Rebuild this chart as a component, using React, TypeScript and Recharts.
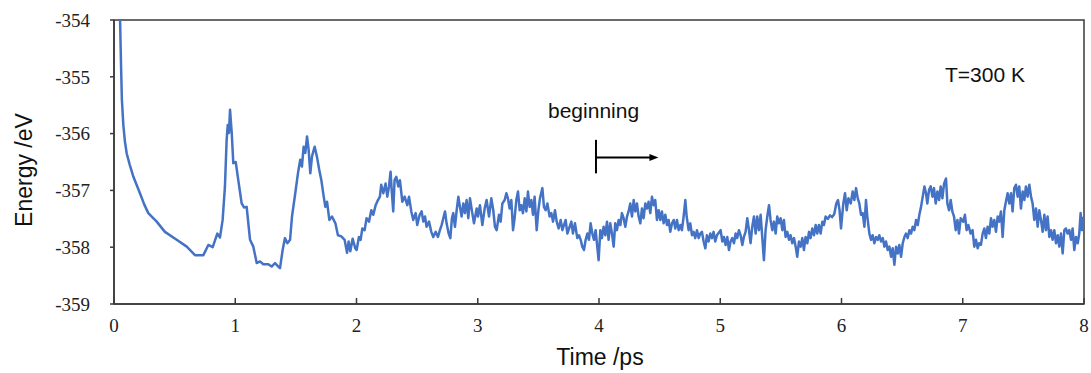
import React from 'react';
import {
  LineChart,
  Line,
  XAxis,
  YAxis,
  ReferenceArea,
  ReferenceLine,
} from 'recharts';

// [time ps, energy eV], one array per picosecond
const seg0: [number, number][] = [
  [0.05, -354.0], [0.058, -354.8], [0.065, -355.4], [0.077, -355.85], [0.09, -356.14],
  [0.105, -356.35], [0.13, -356.55], [0.16, -356.76], [0.214, -357.05], [0.25, -357.25],
  [0.283, -357.4], [0.352, -357.55], [0.42, -357.73], [0.517, -357.87], [0.6, -357.99],
  [0.668, -358.14], [0.737, -358.14], [0.778, -357.96], [0.814, -358.0], [0.852, -357.76],
  [0.874, -357.83], [0.896, -357.52], [0.915, -356.93], [0.929, -356.11], [0.938, -355.85],
  [0.948, -355.99], [0.957, -355.58], [0.971, -355.99], [0.984, -356.52],
];
const seg1: [number, number][] = [
  [1.004, -356.5], [1.025, -356.82], [1.053, -357.23], [1.072, -357.3], [1.094, -357.29],
  [1.122, -357.87], [1.149, -357.99], [1.177, -358.28], [1.204, -358.25], [1.231, -358.3],
  [1.273, -358.3], [1.3, -358.34], [1.328, -358.28], [1.355, -358.34], [1.369, -358.37],
  [1.391, -358.05], [1.41, -357.84], [1.43, -357.93], [1.452, -357.87], [1.468, -357.46],
  [1.495, -357.05], [1.517, -356.7], [1.536, -356.46], [1.55, -356.58], [1.564, -356.23],
  [1.578, -356.34], [1.592, -356.05], [1.605, -356.28], [1.619, -356.7], [1.633, -356.4],
  [1.655, -356.23], [1.674, -356.41], [1.693, -356.64], [1.71, -356.82], [1.729, -357.1],
  [1.743, -357.29], [1.757, -357.2], [1.776, -357.52], [1.798, -357.46], [1.826, -357.58],
  [1.847, -357.79], [1.875, -357.81], [1.902, -357.87], [1.922, -358.1], [1.935, -357.9],
  [1.949, -358.07], [1.968, -357.85], [1.99, -358.02],
];
const seg2: [number, number][] = [
  [2.001, -358.05], [2.02, -357.82], [2.034, -357.87], [2.048, -357.67], [2.067, -357.7],
  [2.083, -357.49], [2.103, -357.55], [2.122, -357.35], [2.138, -357.43], [2.158, -357.26],
  [2.177, -357.17], [2.193, -357.11], [2.204, -356.9], [2.221, -357.05], [2.24, -356.88],
  [2.254, -357.11], [2.268, -356.93], [2.281, -356.67], [2.29, -356.99], [2.303, -357.37],
  [2.314, -356.82], [2.328, -356.76], [2.345, -356.93], [2.358, -356.82], [2.378, -357.2],
  [2.397, -357.11], [2.419, -357.26], [2.433, -357.11], [2.452, -357.37], [2.468, -357.52],
  [2.488, -357.4], [2.501, -357.61], [2.521, -357.43], [2.537, -357.37], [2.551, -357.55],
  [2.565, -357.46], [2.578, -357.64], [2.598, -357.55], [2.617, -357.73], [2.633, -357.82],
  [2.653, -357.73], [2.672, -357.82], [2.688, -357.7], [2.702, -357.61], [2.716, -357.49],
  [2.73, -357.37], [2.743, -357.58], [2.76, -357.76], [2.774, -357.84], [2.787, -357.49],
  [2.798, -357.4], [2.812, -357.64], [2.826, -357.35], [2.84, -357.11], [2.853, -357.29],
  [2.867, -357.46], [2.881, -357.23], [2.894, -357.4], [2.908, -357.17], [2.922, -357.49],
  [2.936, -357.14], [2.955, -357.4], [2.969, -357.58], [2.991, -357.32],
];
const seg3: [number, number][] = [
  [3.002, -357.46], [3.018, -357.26], [3.038, -357.61], [3.057, -357.32], [3.073, -357.17],
  [3.093, -357.46], [3.112, -357.14], [3.128, -357.35], [3.142, -357.64], [3.156, -357.7],
  [3.175, -357.43], [3.189, -357.55], [3.203, -357.23], [3.222, -357.17], [3.236, -357.05],
  [3.249, -357.14], [3.263, -357.32], [3.277, -357.17], [3.291, -357.7], [3.304, -357.49],
  [3.318, -357.17], [3.332, -357.02], [3.346, -357.35], [3.359, -357.26], [3.373, -357.4],
  [3.387, -357.14], [3.401, -357.37], [3.414, -357.02], [3.428, -357.29], [3.442, -357.17],
  [3.456, -357.43], [3.469, -357.11], [3.486, -357.7], [3.5, -357.35], [3.513, -357.14],
  [3.533, -356.96], [3.546, -357.29], [3.56, -357.35], [3.574, -357.23], [3.593, -357.46],
  [3.607, -357.4], [3.621, -357.55], [3.637, -357.35], [3.651, -357.55], [3.667, -357.67],
  [3.684, -357.52], [3.698, -357.7], [3.711, -357.61], [3.725, -357.52], [3.739, -357.76],
  [3.758, -357.64], [3.772, -357.55], [3.785, -357.76], [3.802, -357.58], [3.821, -357.84],
  [3.835, -357.79], [3.849, -357.87], [3.862, -357.99], [3.876, -358.05], [3.89, -357.87],
  [3.904, -357.76], [3.917, -357.87], [3.931, -357.58], [3.945, -357.76], [3.959, -357.87],
  [3.972, -357.7], [3.997, -358.23],
];
const seg4: [number, number][] = [
  [4.011, -357.7], [4.024, -357.84], [4.038, -357.64], [4.052, -357.79], [4.066, -357.55],
  [4.079, -357.87], [4.093, -357.58], [4.107, -357.76], [4.121, -357.99], [4.134, -357.58],
  [4.148, -357.7], [4.162, -357.52], [4.176, -357.61], [4.189, -357.4], [4.203, -357.49],
  [4.217, -357.64], [4.231, -357.46], [4.244, -357.37], [4.258, -357.23], [4.272, -357.46],
  [4.286, -357.17], [4.299, -357.37], [4.313, -357.23], [4.327, -357.46], [4.341, -357.58],
  [4.354, -357.32], [4.368, -357.49], [4.382, -357.23], [4.396, -357.32], [4.409, -357.2],
  [4.423, -357.4], [4.437, -357.11], [4.451, -357.26], [4.464, -357.17], [4.478, -357.52],
  [4.492, -357.35], [4.506, -357.52], [4.519, -357.37], [4.533, -357.58], [4.547, -357.43],
  [4.561, -357.61], [4.574, -357.52], [4.588, -357.73], [4.602, -357.58], [4.616, -357.52],
  [4.629, -357.67], [4.643, -357.52], [4.657, -357.7], [4.671, -357.61], [4.684, -357.7],
  [4.698, -357.46], [4.712, -357.17], [4.723, -357.46], [4.739, -357.7], [4.753, -357.58],
  [4.767, -357.79], [4.78, -357.73], [4.794, -357.84], [4.808, -357.7], [4.822, -357.84],
  [4.835, -357.76], [4.849, -357.73], [4.863, -357.9], [4.877, -358.02], [4.89, -357.79],
  [4.904, -357.9], [4.918, -357.76], [4.932, -357.84], [4.945, -357.73], [4.959, -357.9],
  [4.973, -357.79],
];
const seg5: [number, number][] = [
  [5.003, -357.7], [5.017, -357.9], [5.03, -357.82], [5.044, -357.96], [5.058, -357.82],
  [5.072, -358.05], [5.085, -357.9], [5.099, -357.84], [5.113, -357.93], [5.127, -357.76],
  [5.14, -357.84], [5.154, -357.7], [5.168, -357.79], [5.182, -357.96], [5.195, -357.82],
  [5.209, -357.73], [5.223, -357.49], [5.237, -357.7], [5.25, -357.93], [5.264, -357.64],
  [5.278, -357.46], [5.292, -357.76], [5.305, -357.46], [5.319, -357.7], [5.333, -357.43],
  [5.347, -357.84], [5.36, -358.23], [5.374, -357.7], [5.388, -357.46], [5.402, -357.26],
  [5.415, -357.52], [5.429, -357.7], [5.443, -357.55], [5.457, -357.76], [5.47, -357.46],
  [5.484, -357.58], [5.498, -357.49], [5.512, -357.7], [5.525, -357.52], [5.539, -357.82],
  [5.553, -357.73], [5.567, -357.87], [5.58, -357.79], [5.594, -357.93], [5.608, -357.84],
  [5.622, -357.99], [5.635, -358.17], [5.649, -357.9], [5.663, -357.99], [5.677, -357.84],
  [5.69, -358.05], [5.704, -357.82], [5.718, -357.93], [5.732, -357.73], [5.745, -357.84],
  [5.759, -357.67], [5.773, -357.79], [5.787, -357.61], [5.8, -357.76], [5.814, -357.61],
  [5.828, -357.76], [5.842, -357.55], [5.855, -357.61], [5.869, -357.46], [5.888, -357.5],
  [5.905, -357.44], [5.922, -357.47], [5.94, -357.42], [5.957, -357.23], [5.971, -357.17],
  [5.984, -357.35], [5.996, -357.67],
];
const seg6: [number, number][] = [
  [6.015, -357.23], [6.029, -357.05], [6.043, -357.35], [6.057, -357.14], [6.076, -357.23],
  [6.092, -357.02], [6.106, -357.17], [6.12, -356.96], [6.134, -357.14], [6.147, -357.23],
  [6.161, -357.43], [6.175, -357.4], [6.189, -357.64], [6.202, -357.17], [6.213, -357.46],
  [6.23, -357.76], [6.244, -357.87], [6.257, -357.79], [6.271, -357.93], [6.285, -357.82],
  [6.299, -357.87], [6.312, -357.79], [6.326, -357.9], [6.34, -357.84], [6.354, -357.99],
  [6.367, -357.9], [6.381, -358.05], [6.395, -357.99], [6.409, -358.17], [6.422, -358.02],
  [6.436, -358.31], [6.45, -357.99], [6.464, -358.11], [6.477, -357.96], [6.491, -358.17],
  [6.505, -357.93], [6.519, -357.82], [6.532, -357.76], [6.546, -357.84], [6.56, -357.7],
  [6.574, -357.76], [6.587, -357.64], [6.601, -357.7], [6.615, -357.52], [6.629, -357.61],
  [6.642, -357.43], [6.656, -357.29], [6.67, -357.11], [6.684, -356.93], [6.697, -357.05],
  [6.708, -357.23], [6.722, -356.99], [6.736, -356.93], [6.75, -357.11], [6.763, -356.96],
  [6.777, -357.23], [6.791, -357.02], [6.805, -357.17], [6.818, -356.93], [6.832, -357.14],
  [6.846, -356.88], [6.862, -356.79], [6.873, -357.23], [6.887, -357.35], [6.901, -357.17],
  [6.914, -357.37], [6.928, -357.46], [6.942, -357.7], [6.956, -357.52], [6.969, -357.76],
  [6.983, -357.49],
];
const seg7: [number, number][] = [
  [7.004, -357.55], [7.018, -357.43], [7.032, -357.7], [7.046, -357.61], [7.065, -357.76],
  [7.081, -357.7], [7.095, -357.99], [7.109, -357.87], [7.123, -358.02], [7.136, -357.93],
  [7.15, -357.96], [7.164, -357.76], [7.178, -357.67], [7.191, -357.84], [7.205, -357.64],
  [7.219, -357.76], [7.233, -357.49], [7.246, -357.64], [7.26, -357.52], [7.274, -357.73],
  [7.288, -357.46], [7.301, -357.55], [7.315, -357.37], [7.329, -357.82], [7.343, -357.35],
  [7.356, -357.2], [7.37, -357.05], [7.384, -357.23], [7.398, -357.05], [7.411, -357.37],
  [7.425, -356.96], [7.439, -356.9], [7.453, -357.11], [7.466, -356.93], [7.48, -357.32],
  [7.494, -357.02], [7.508, -357.17], [7.521, -356.93], [7.535, -357.11], [7.549, -356.9],
  [7.563, -357.11], [7.576, -357.23], [7.59, -357.52], [7.604, -357.32], [7.618, -357.64],
  [7.631, -357.35], [7.645, -357.52], [7.659, -357.73], [7.673, -357.43], [7.686, -357.7],
  [7.7, -357.46], [7.714, -357.82], [7.728, -357.7], [7.741, -357.87], [7.755, -357.7],
  [7.769, -357.93], [7.783, -357.79], [7.796, -357.99], [7.81, -357.76], [7.824, -358.11],
  [7.838, -357.7], [7.851, -357.67], [7.865, -357.76], [7.879, -357.7], [7.893, -357.87],
  [7.906, -357.67], [7.92, -358.05], [7.934, -357.82], [7.948, -357.93], [7.961, -357.76],
  [7.972, -357.4], [7.983, -357.7], [7.994, -357.46],
];

const xTicks = [0, 1, 2, 3, 4, 5, 6, 7, 8];
const yTicks = [-359, -358, -357, -356, -355, -354];

// "beginning" marker: bar at ~3.975 ps, arrow to ~4.49 ps
const markerX = 3.975;
const arrowEndX = 4.49;
const markerTop = -356.11;
const markerBottom = -356.7;
const arrowY = -356.42;

const data = [...seg0, ...seg1, ...seg2, ...seg3, ...seg4, ...seg5, ...seg6, ...seg7].map(
  ([t, e]) => ({ t, e })
);

const AXIS = '#3a3a3a';
const SERIF = '"Liberation Serif", "Times New Roman", serif';
const SANS = '"Liberation Sans", Arial, sans-serif';

const arrowShape = (p: any) => (
  <g>
    <line x1={p.x1} y1={p.y1} x2={p.x2 - 6} y2={p.y2} stroke="#000" strokeWidth={2} />
    <polygon
      points={`${p.x2},${p.y2} ${p.x2 - 9},${p.y2 - 3.5} ${p.x2 - 9},${p.y2 + 3.5}`}
      fill="#000"
    />
  </g>
);

export default function App() {
  return (
    <div
      style={{
        position: 'absolute',
        left: 0,
        top: 0,
        width: 1091,
        height: 373,
        background: '#fff',
      }}
    >
      <LineChart
        width={1091}
        height={373}
        data={data}
        margin={{ top: 20, right: 7, bottom: 39, left: 0 }}
      >
        <XAxis
          type="number"
          dataKey="t"
          domain={[0, 8]}
          ticks={xTicks}
          interval={0}
          height={30}
          stroke={AXIS}
          strokeWidth={1.5}
          tickSize={-6}
          tickMargin={21}
          tick={{ fontSize: 19, fill: '#222', fontFamily: SERIF }}
        />
        <YAxis
          type="number"
          domain={[-359, -354]}
          ticks={yTicks}
          interval={0}
          width={114}
          stroke={AXIS}
          strokeWidth={1.5}
          tickSize={4}
          tickMargin={20}
          tick={{ fontSize: 19, fill: '#222', fontFamily: SERIF }}
        />
        <ReferenceArea
          x1={0}
          x2={8}
          y1={-359}
          y2={-354}
          fill="none"
          fillOpacity={0}
          stroke={AXIS}
          strokeWidth={1.5}
        />
        <Line
          type="linear"
          dataKey="e"
          stroke="#4472C4"
          strokeWidth={2.5}
          strokeLinejoin="round"
          dot={false}
          activeDot={false}
          isAnimationActive={false}
        />
        <ReferenceLine
          segment={[
            { x: markerX, y: markerTop },
            { x: markerX, y: markerBottom },
          ]}
          stroke="#000"
          strokeWidth={2}
        />
        <ReferenceLine
          segment={[
            { x: markerX, y: arrowY },
            { x: arrowEndX, y: arrowY },
          ]}
          shape={arrowShape}
        />
      </LineChart>
      <svg
        width={1091}
        height={373}
        style={{ position: 'absolute', left: 0, top: 0, pointerEvents: 'none' }}
      >
        <text
          x={32}
          y={170}
          transform="rotate(-90 32 170)"
          textAnchor="middle"
          fontFamily={SANS}
          fontSize={23}
          fill="#111"
        >
          Energy /eV
        </text>
        <text x={600} y={365} textAnchor="middle" fontFamily={SANS} fontSize={23} fill="#111">
          Time /ps
        </text>
        <text x={548} y={118} fontFamily={SANS} fontSize={21} fill="#111">
          beginning
        </text>
        <text x={945} y={81.5} fontFamily={SANS} fontSize={21} fill="#111">
          T=300 K
        </text>
      </svg>
    </div>
  );
}
